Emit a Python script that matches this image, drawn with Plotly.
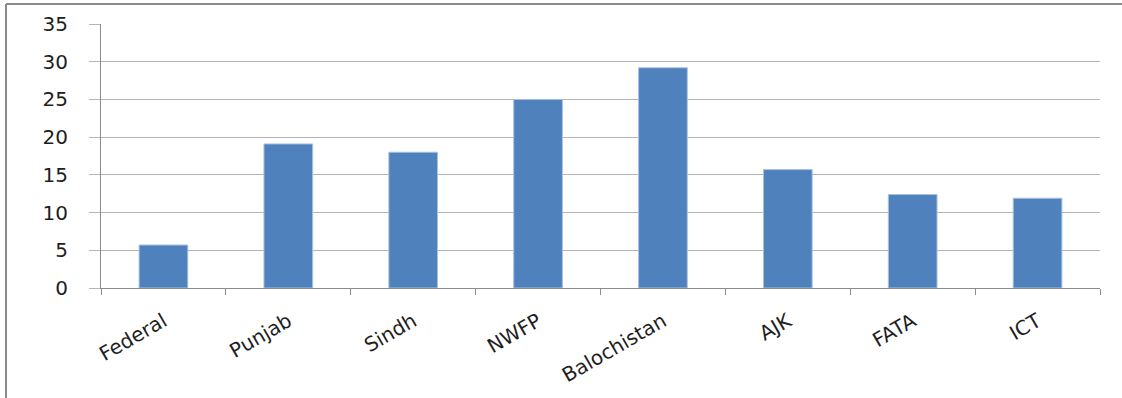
import plotly.graph_objects as go

# Regions and their values
regions = ["Federal", "Punjab", "Sindh", "NWFP", "Balochistan", "AJK", "FATA", "ICT"]
values = [5.7, 19.1, 18.0, 25.0, 29.2, 15.7, 12.4, 11.9]
y_ticks = [0, 5, 10, 15, 20, 25, 30, 35]

W, H = 1122, 398
ML, MR, MT, MB = 101, 22, 24, 110
PW, PH = W - ML - MR, H - MT - MB

def px_x(px):
    return (px - ML) / PW

def px_y(py):
    return 1 - (py - MT) / PH

fig = go.Figure(
    go.Bar(
        x=regions,
        y=values,
        width=0.39,
        marker=dict(color="#4f81bd", line=dict(color="#a9c1e0", width=1)),
    )
)

fig.update_layout(
    width=W,
    height=H,
    margin=dict(l=ML, r=MR, t=MT, b=MB, pad=0),
    paper_bgcolor="white",
    plot_bgcolor="white",
    showlegend=False,
    font=dict(family="DejaVu Sans", color="#1e1e1e"),
)

fig.update_yaxes(
    range=[0, 35],
    tickvals=y_ticks,
    automargin=False,
    showgrid=True,
    gridcolor="#b4b4b4",
    gridwidth=1,
    ticks="outside",
    ticklen=11,
    tickcolor="#b4b4b4",
    showline=True,
    linecolor="#8c8c8c",
    linewidth=1,
    zeroline=False,
    tickfont=dict(family="DejaVu Sans", size=20, color="#1e1e1e"),
    ticklabelstandoff=17,
)

fig.update_xaxes(
    type="category",
    automargin=False,
    showgrid=False,
    ticks="outside",
    tickson="boundaries",
    ticklen=6,
    tickcolor="#8c8c8c",
    showline=True,
    linecolor="#8c8c8c",
    linewidth=1,
    tickangle=-30,
    tickfont=dict(family="DejaVu Sans", size=20, color="#1e1e1e"),
    ticklabelstandoff=13,
)

# Outer chart frame (left and top edges visible)
frame = dict(color="#8a8a8a", width=2)
fig.add_shape(type="line", xref="paper", yref="paper",
              x0=px_x(6), x1=px_x(W + 5), y0=px_y(4), y1=px_y(4), line=frame)
fig.add_shape(type="line", xref="paper", yref="paper",
              x0=px_x(6), x1=px_x(6), y0=px_y(4), y1=px_y(H + 5), line=frame)

fig.write_html("out.html")
